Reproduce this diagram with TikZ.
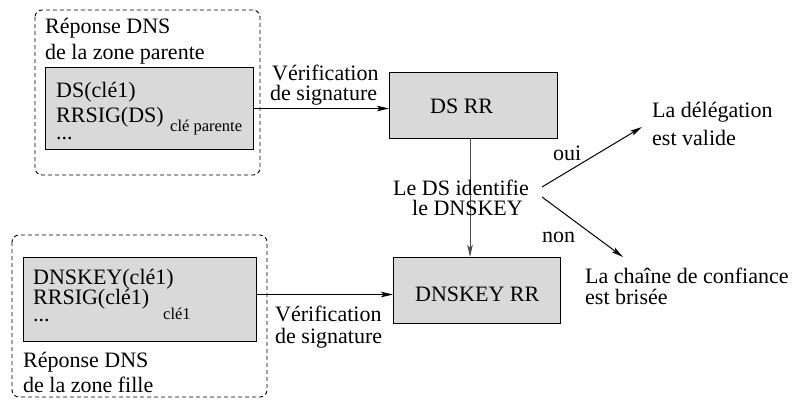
\documentclass[tikz,border=0pt]{standalone}
\usepackage{fontspec}
\setmainfont{Liberation Serif}
\usetikzlibrary{arrows.meta}

\tikzset{
  txt/.style={anchor=base west, inner sep=0pt, font=\fontsize{22}{26}\selectfont},
  subtxt/.style={anchor=base west, inner sep=0pt, font=\fontsize{16.5}{19}\selectfont},
  graybox/.style={draw=black, line width=1pt, fill=boxgray, anchor=north west, inner sep=0pt},
  zone/.style={draw=black, line width=0.9pt, dash pattern=on 4pt off 3pt, rounded corners=7pt},
  arr/.style={draw=black, line width=1pt, -{Stealth[length=12pt,width=5.5pt,inset=2.5pt]}},
}
\definecolor{boxgray}{HTML}{D9D9D9}

\begin{document}
\begin{tikzpicture}[x=1pt, y=-1pt]
\useasboundingbox (0,0) rectangle (794,400);

% parent zone answer
\draw[zone] (35,10) rectangle (260,175);
\node[txt] (ptitle1) at (45,33) {Réponse DNS};
\node[txt] (ptitle2) at (45,59) {de la zone parente};
\node[graybox, minimum width=208pt, minimum height=82pt] (pbox) at (45,67) {};
\node[txt] (pds) at (56,97) {DS(clé1)};
\node[txt] (psig) at (56,122) {RRSIG(DS)};
\node[subtxt] (psub) at (170,131) {clé parente};
\node[txt] (pdots) at (56,139) {...};

% child zone answer
\draw[zone] (12,235) rectangle (267,397);
\node[graybox, minimum width=233pt, minimum height=84pt] (cbox) at (23,257) {};
\node[txt] (ckey) at (33,284) {DNSKEY(clé1)};
\node[txt] (csig) at (33,304) {RRSIG(clé1)};
\node[subtxt] (csub) at (163,319) {clé1};
\node[txt] (cdots) at (33,321) {...};
\node[txt] (ctitle1) at (23,367) {Réponse DNS};
\node[txt] (ctitle2) at (23,392) {de la zone fille};

% resource record sets
\node[graybox, minimum width=168pt, minimum height=66pt] (dsrr) at (389,72) {};
\node[txt] (dsrrlbl) at (430,113) {DS RR};
\node[graybox, minimum width=167pt, minimum height=66pt] (key) at (393,257) {};
\node[txt] (keylbl) at (415,301) {DNSKEY RR};

% signature checks
\node[txt] (v1a) at (272,80) {Vérification};
\node[txt] (v1b) at (270,100) {de signature};
\draw[arr] (pbox.east) -- (pbox.east -| dsrr.west);

\node[txt] (v2a) at (275,321) {Vérification};
\node[txt] (v2b) at (275,343) {de signature};
\coordinate (vs2) at ([yshift=5pt]cbox.east);
\draw[arr] (vs2) -- (vs2 -| key.west);

% DS to DNSKEY link
\coordinate (vx) at (470,0);
\draw[arr, draw=black!70] (vx |- dsrr.south) -- (vx |- key.north);
\node[txt] (q1) at (393,195) {Le DS identifie};
\node[txt] (q2) at (412,215) {le DNSKEY};

% outcomes
\node[txt] (ok1) at (652,117) {La délégation};
\node[txt] (ok2) at (652,145) {est valide};
\node[txt] (ko1) at (585,283) {La chaîne de confiance};
\node[txt] (ko2) at (585,304) {est brisée};
\coordinate (qo) at (542,187);
\coordinate (qn) at (542,197);
\coordinate (okp) at (642,127);
\coordinate (kop) at (623,257);
\draw[arr] (qo) -- (okp);
\draw[arr] (qn) -- (kop);
\node[txt] (yes) at (553,160) {oui};
\node[txt] (no) at (542,242) {non};
\end{tikzpicture}
\end{document}
